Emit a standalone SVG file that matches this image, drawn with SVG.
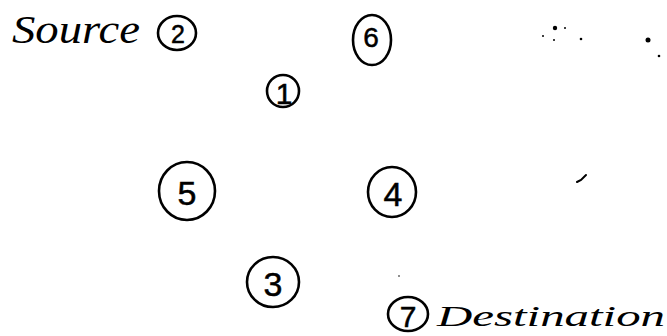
<svg xmlns="http://www.w3.org/2000/svg" width="667" height="336" viewBox="0 0 667 336">
<style>
.c{fill:none;stroke:#000;stroke-width:2.6}
.n{font-family:"Liberation Sans",sans-serif;fill:#000;stroke:#000;stroke-width:0.5;text-anchor:middle}
.l{font-family:"Liberation Serif",serif;font-style:italic;fill:#000}
.d{fill:#000}
</style>
<rect width="667" height="336" fill="#fff"/>
<g id="node2">
<text class="l" x="12" y="43" font-size="40" textLength="128" lengthAdjust="spacingAndGlyphs">Source</text>
<ellipse class="c" cx="177" cy="33" rx="19" ry="17"/>
<text class="n" x="178" y="43" font-size="25">2</text>
</g>
<g id="node1">
<ellipse class="c" cx="283" cy="91" rx="16" ry="16"/>
<text class="n" x="284" y="104" font-size="30">1</text>
</g>
<g id="node6">
<ellipse class="c" cx="372" cy="40" rx="19" ry="25"/>
<text class="n" x="371" y="47" font-size="28">6</text>
</g>
<g id="node5">
<ellipse class="c" cx="187" cy="191" rx="28" ry="29"/>
<text class="n" x="187" y="205" font-size="34">5</text>
</g>
<g id="node4">
<ellipse class="c" cx="392" cy="192" rx="24" ry="25"/>
<text class="n" x="393" y="206" font-size="34">4</text>
</g>
<g id="node3">
<ellipse class="c" cx="273" cy="282" rx="26" ry="25"/>
<text class="n" x="273" y="296" font-size="34">3</text>
</g>
<g id="node7">
<ellipse class="c" cx="408" cy="314" rx="20" ry="17"/>
<text class="n" x="408" y="327" font-size="30">7</text>
<text class="l" x="437" y="326" font-size="30" textLength="228" lengthAdjust="spacingAndGlyphs">Destination</text>
</g>
<g id="connectors"></g>
<g id="specks">
<circle class="d" cx="555" cy="28" r="2.2"/>
<circle class="d" cx="565" cy="28" r="1"/>
<circle class="d" cx="543" cy="36" r="1"/>
<circle class="d" cx="554" cy="40" r="1"/>
<circle class="d" cx="581" cy="39" r="1.3"/>
<circle class="d" cx="648" cy="40" r="2.5"/>
<circle class="d" cx="659" cy="56" r="1.3"/>
<circle class="d" cx="399" cy="276" r="0.8"/>
<path d="M577 182 L581 180 L586 175" fill="none" stroke="#000" stroke-width="2" stroke-linecap="round"/>
</g>
</svg>
